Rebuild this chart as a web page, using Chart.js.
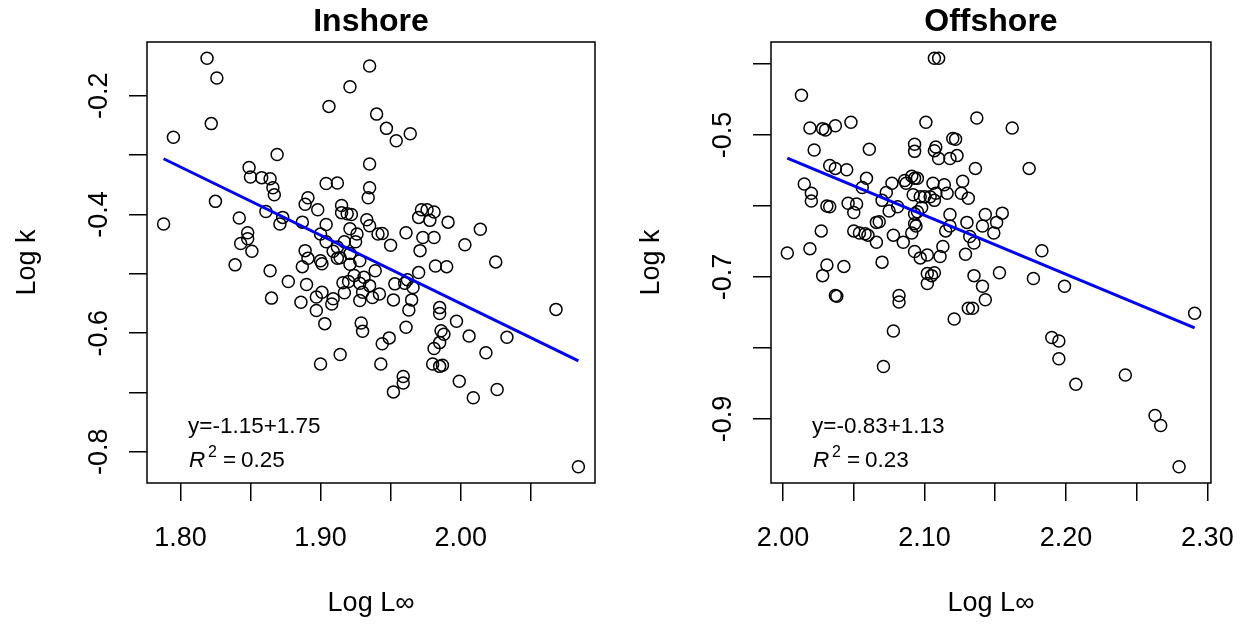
<!DOCTYPE html>
<html>
<head>
<meta charset="utf-8">
<script src="https://cdn.jsdelivr.net/npm/chart.js@4.4.1/dist/chart.umd.min.js"></script>
<style>
  html, body { margin: 0; padding: 0; background: #fff; }
  #wrap { position: relative; width: 1255px; height: 624px; }
  canvas { position: absolute; top: 0; }
  #inshore { left: 0; }
  #offshore { left: 627px; }
</style>
</head>
<body>
<div id="wrap">
  <canvas id="inshore" width="627" height="624"></canvas>
  <canvas id="offshore" width="628" height="624"></canvas>
</div>
<script>
// Inshore stocks: log asymptotic length vs log growth coefficient
const inshoreX = [
  1.819, 1.826, 1.935, 1.921, 1.906, 1.940, 1.947, 1.954, 1.964, 1.822,
  1.795, 1.869, 1.935, 1.849, 1.850, 1.858, 1.864, 1.866, 1.867, 1.904,
  1.912, 1.935, 1.934, 1.825, 1.788, 1.842, 1.861, 1.873, 1.871, 1.891,
  1.889, 1.898, 1.887, 1.904, 1.915, 1.915, 1.919, 1.922, 1.921, 1.933,
  1.935, 1.926, 1.925, 1.917, 1.900, 1.904, 1.912, 1.909, 1.914, 1.921,
  1.928, 1.921, 1.912, 1.900, 1.901, 1.889, 1.891, 1.887, 1.848, 1.848,
  1.843, 1.851, 1.839, 1.864, 1.877, 1.890, 1.939, 1.941, 1.944, 1.950,
  1.961, 1.971, 1.973, 1.981, 1.970, 1.972, 1.976, 1.978, 1.981, 1.991,
  2.003, 2.014, 2.025, 1.982, 1.990, 1.970, 1.953, 1.962, 1.960, 1.865,
  1.886, 1.897, 1.897, 1.901, 1.908, 1.909, 1.903, 1.916, 1.920, 1.924,
  1.928, 1.931, 1.935, 1.917, 1.930, 1.937, 1.942, 1.928, 1.952, 1.966,
  1.965, 1.963, 1.961, 1.985, 1.985, 1.997, 1.986, 1.988, 1.985, 1.981,
  1.980, 1.985, 1.987, 2.006, 2.018, 2.033, 2.026, 2.009, 1.999, 2.068,
  2.084, 1.929, 1.930, 1.900, 1.914, 1.944, 1.949, 1.943, 1.959, 1.959,
  1.952
];
const inshoreY = [
  -0.137, -0.170, -0.150, -0.185, -0.218, -0.231, -0.255, -0.276, -0.264, -0.247,
  -0.270, -0.299, -0.315, -0.321, -0.337, -0.338, -0.340, -0.355, -0.367, -0.348,
  -0.347, -0.355, -0.372, -0.378, -0.416, -0.406, -0.395, -0.405, -0.416, -0.372,
  -0.383, -0.392, -0.413, -0.417, -0.385, -0.397, -0.399, -0.400, -0.424, -0.409,
  -0.419, -0.433, -0.446, -0.446, -0.433, -0.446, -0.455, -0.462, -0.473, -0.466,
  -0.478, -0.484, -0.474, -0.478, -0.483, -0.461, -0.474, -0.488, -0.431, -0.441,
  -0.449, -0.462, -0.485, -0.495, -0.513, -0.518, -0.495, -0.433, -0.432, -0.452,
  -0.431, -0.461, -0.439, -0.439, -0.405, -0.392, -0.392, -0.410, -0.396, -0.413,
  -0.451, -0.425, -0.480, -0.487, -0.488, -0.498, -0.517, -0.510, -0.516, -0.541,
  -0.548, -0.562, -0.539, -0.531, -0.551, -0.542, -0.584, -0.515, -0.513, -0.503,
  -0.516, -0.506, -0.520, -0.532, -0.531, -0.540, -0.534, -0.545, -0.544, -0.523,
  -0.544, -0.561, -0.590, -0.557, -0.567, -0.580, -0.596, -0.602, -0.616, -0.626,
  -0.652, -0.656, -0.654, -0.605, -0.633, -0.607, -0.695, -0.709, -0.681, -0.560,
  -0.825, -0.583, -0.597, -0.652, -0.636, -0.618, -0.608, -0.652, -0.673, -0.684,
  -0.699
];

// Offshore stocks
const offshoreX = [
  2.107, 2.110, 2.013, 2.019, 2.028, 2.030, 2.037, 2.048, 2.022, 2.061,
  2.101, 2.137, 2.162, 2.120, 2.122, 2.093, 2.093, 2.108, 2.107, 2.110,
  2.118, 2.123, 2.174, 2.136, 2.033, 2.037, 2.045, 2.015, 2.020, 2.020,
  2.031, 2.033, 2.046, 2.052, 2.050, 2.059, 2.056, 2.077, 2.073, 2.070,
  2.086, 2.091, 2.093, 2.095, 2.087, 2.092, 2.081, 2.075, 2.106, 2.114,
  2.116, 2.108, 2.100, 2.097, 2.104, 2.107, 2.127, 2.126, 2.131, 2.098,
  2.095, 2.093, 2.093, 2.094, 2.091, 2.118, 2.118, 2.115, 2.130, 2.143,
  2.141, 2.151, 2.155, 2.149, 2.132, 2.135, 2.113, 2.111, 2.129, 2.066,
  2.068, 2.050, 2.054, 2.058, 2.060, 2.066, 2.078, 2.085, 2.093, 2.097,
  2.102, 2.027, 2.019, 2.003, 2.031, 2.028, 2.043, 2.070, 2.102, 2.105,
  2.107, 2.102, 2.135, 2.141, 2.153, 2.177, 2.183, 2.199, 2.143, 2.037,
  2.038, 2.082, 2.082, 2.078, 2.071, 2.121, 2.131, 2.134, 2.190, 2.195,
  2.195, 2.207, 2.242, 2.291, 2.263, 2.267, 2.280
];
const offshoreY = [
  -0.392, -0.392, -0.444, -0.490, -0.491, -0.493, -0.487, -0.482, -0.521, -0.520,
  -0.482, -0.476, -0.490, -0.505, -0.506, -0.513, -0.523, -0.517, -0.522, -0.533,
  -0.533, -0.529, -0.547, -0.547, -0.543, -0.547, -0.549, -0.569, -0.582, -0.593,
  -0.600, -0.601, -0.596, -0.597, -0.609, -0.561, -0.574, -0.568, -0.581, -0.592,
  -0.564, -0.558, -0.561, -0.561, -0.568, -0.584, -0.601, -0.607, -0.568, -0.570,
  -0.582, -0.582, -0.587, -0.587, -0.587, -0.592, -0.565, -0.582, -0.589, -0.602,
  -0.608, -0.611, -0.625, -0.628, -0.638, -0.612, -0.628, -0.635, -0.623, -0.612,
  -0.628, -0.623, -0.610, -0.638, -0.643, -0.652, -0.657, -0.671, -0.668, -0.623,
  -0.622, -0.635, -0.638, -0.639, -0.641, -0.651, -0.641, -0.651, -0.664, -0.673,
  -0.669, -0.635, -0.660, -0.666, -0.683, -0.698, -0.685, -0.679, -0.695, -0.698,
  -0.694, -0.709, -0.698, -0.713, -0.694, -0.702, -0.663, -0.713, -0.732, -0.726,
  -0.727, -0.726, -0.735, -0.776, -0.826, -0.759, -0.744, -0.744, -0.785, -0.790,
  -0.815, -0.851, -0.838, -0.751, -0.895, -0.909, -0.967
];

// fitted regressions as printed on each panel
const inshoreFit = [-1.15, 1.75];   // slope, intercept
const offshoreFit = [-0.83, 1.13];
const inshoreR2 = 0.25;
const offshoreR2 = 0.23;

// axis ticks and labels (R drops the in-between labels)
const inshoreXTicks = [1.80, 1.85, 1.90, 1.95, 2.00, 2.05];
const inshoreXLabels = ['1.80', '', '1.90', '', '2.00', ''];
const inshoreYTicks = [-0.2, -0.3, -0.4, -0.5, -0.6, -0.7, -0.8];
const inshoreYLabels = ['-0.2', '', '-0.4', '', '-0.6', '', '-0.8'];
const offshoreXTicks = [2.00, 2.05, 2.10, 2.15, 2.20, 2.25, 2.30];
const offshoreXLabels = ['2.00', '', '2.10', '', '2.20', '', '2.30'];
const offshoreYTicks = [-0.4, -0.5, -0.6, -0.7, -0.8, -0.9];
const offshoreYLabels = ['', '-0.5', '', '-0.7', '', '-0.9'];

Chart.defaults.font.family = '"Liberation Sans", Arial, Helvetica, sans-serif';
Chart.defaults.color = '#000';

const FONT = '"Liberation Sans", Arial, Helvetica, sans-serif';

// R default: data range extended by 4% on each side
function padRange(arr) {
  const lo = Math.min(...arr), hi = Math.max(...arr);
  const d = (hi - lo) * 0.04;
  return [lo - d, hi + d];
}

// plot frame plus the fit equation / R^2 text in the lower left
const rFrame = {
  id: 'rFrame',
  afterDatasetsDraw(chart, args, opts) {
    const { ctx, chartArea: a } = chart;
    ctx.save();
    ctx.strokeStyle = '#000';
    ctx.lineWidth = 1.5;
    ctx.strokeRect(a.left, a.top, a.right - a.left, a.bottom - a.top);

    ctx.fillStyle = '#000';
    ctx.textAlign = 'left';
    ctx.textBaseline = 'alphabetic';
    const x0 = a.left + 41;
    ctx.font = '22.5px ' + FONT;
    ctx.fillText(opts.equation, x0, a.bottom - 50);

    const y2 = a.bottom - 16;
    ctx.font = 'italic 22.5px ' + FONT;
    ctx.fillText('R', x0 + 1, y2);
    ctx.font = '16px ' + FONT;
    ctx.fillText('2', x0 + 20, y2 - 10);
    ctx.font = '22.5px ' + FONT;
    ctx.fillText('=', x0 + 35, y2);
    ctx.fillText(opts.r2, x0 + 53, y2);
    ctx.restore();
  }
};

function makePanel(cfg) {
  const points = cfg.xs.map((x, i) => ({ x: x, y: cfg.ys[i] }));
  const [slope, intercept] = cfg.fit;
  const x1 = Math.min(...cfg.xs), x2 = Math.max(...cfg.xs);
  const fitLine = [
    { x: x1, y: intercept + slope * x1 },
    { x: x2, y: intercept + slope * x2 }
  ];
  const xr = padRange(cfg.xs), yr = padRange(cfg.ys);

  return new Chart(document.getElementById(cfg.id), {
    type: 'scatter',
    data: {
      datasets: [
        {
          data: fitLine,
          showLine: true,
          borderColor: '#0000ff',
          borderWidth: 3,
          pointRadius: 0,
          fill: false
        },
        {
          data: points,
          pointStyle: 'circle',
          pointRadius: 6,
          pointBorderWidth: 1.5,
          pointBorderColor: '#000',
          pointBackgroundColor: 'rgba(0,0,0,0)'
        }
      ]
    },
    options: {
      responsive: false,
      animation: false,
      layout: { padding: { left: 0, top: 0, bottom: 0, right: cfg.rightPad } },
      plugins: {
        legend: { display: false },
        tooltip: { enabled: false },
        title: {
          display: true,
          text: cfg.title,
          fullSize: false,
          color: '#000',
          font: { size: 32, weight: 'bold', lineHeight: 1 },
          padding: { top: 6, bottom: 4 }
        },
        rFrame: {
          equation: 'y=' + slope.toFixed(2) + '+' + intercept.toFixed(2),
          r2: cfg.r2.toFixed(2)
        }
      },
      scales: {
        x: {
          type: 'linear',
          position: 'bottom',
          min: xr[0],
          max: xr[1],
          afterBuildTicks: axis => { axis.ticks = cfg.xTicks.map(v => ({ value: v })); },
          afterFit: axis => { axis.height = 141; },
          ticks: {
            autoSkip: false,
            minRotation: 0,
            maxRotation: 0,
            padding: 21,
            color: '#000',
            font: { size: 27 },
            callback: (v, i) => cfg.xLabels[i]
          },
          grid: {
            display: true,
            drawOnChartArea: false,
            drawTicks: true,
            tickLength: 18,
            color: '#000',
            lineWidth: 1.5
          },
          border: { display: false },
          title: {
            display: true,
            text: 'Log L\u221e',
            color: '#000',
            font: { size: 27 },
            padding: { top: 0, bottom: 4.5 }
          }
        },
        y: {
          type: 'linear',
          position: 'left',
          min: yr[0],
          max: yr[1],
          afterBuildTicks: axis => { axis.ticks = cfg.yTicks.map(v => ({ value: v })); },
          afterFit: axis => { axis.width = cfg.yAxisWidth; },
          ticks: {
            autoSkip: false,
            minRotation: 90,
            maxRotation: 90,
            crossAlign: 'center',
            padding: 6,
            color: '#000',
            font: { size: 27 },
            callback: (v, i) => cfg.yLabels[i]
          },
          grid: {
            display: true,
            drawOnChartArea: false,
            drawTicks: true,
            tickLength: 18,
            color: '#000',
            lineWidth: 1.5
          },
          border: { display: false },
          title: {
            display: true,
            text: 'Log k',
            color: '#000',
            font: { size: 27 },
            padding: { top: cfg.yTitlePad, bottom: 0 }
          }
        }
      }
    },
    plugins: [rFrame]
  });
}

const inshoreChart = makePanel({
  id: 'inshore', title: 'Inshore',
  xs: inshoreX, ys: inshoreY, fit: inshoreFit, r2: inshoreR2,
  xTicks: inshoreXTicks, xLabels: inshoreXLabels,
  yTicks: inshoreYTicks, yLabels: inshoreYLabels,
  yAxisWidth: 147, rightPad: 32, yTitlePad: 11
});

const offshoreChart = makePanel({
  id: 'offshore', title: 'Offshore',
  xs: offshoreX, ys: offshoreY, fit: offshoreFit, r2: offshoreR2,
  xTicks: offshoreXTicks, xLabels: offshoreXLabels,
  yTicks: offshoreYTicks, yLabels: offshoreYLabels,
  yAxisWidth: 144, rightPad: 37, yTitlePad: 8
});
</script>
</body>
</html>
